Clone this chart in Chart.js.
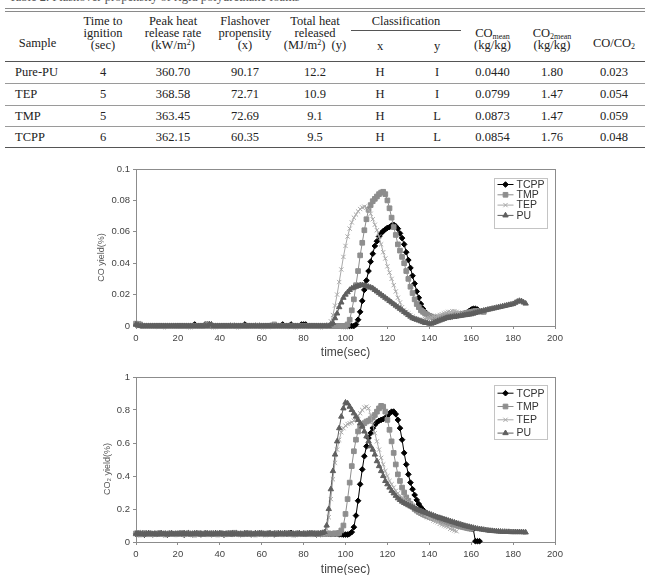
<!DOCTYPE html>
<html>
<head>
<meta charset="utf-8">
<script src="https://cdn.jsdelivr.net/npm/chart.js@4.4.0/dist/chart.umd.min.js"></script>
<style>
  html, body { margin: 0; padding: 0; background: #fff; }
  body { width: 654px; height: 575px; position: relative; overflow: hidden;
         font-family: "Liberation Serif", "Times New Roman", serif; color: #222; }
  #caption { position: absolute; left: 9px; top: -10px; font-size: 12.5px; line-height: 14px;
             color: #555; white-space: nowrap; }
  #rule { position: absolute; left: 5px; top: 8px; width: 640px; height: 2px;
          border-top: 1px solid #8a8a8a; border-bottom: 1px solid #8a8a8a; }
  #tbl { position: absolute; left: 5px; top: 12px; width: 640px; table-layout: fixed;
         border-collapse: separate; border-spacing: 0; font-size: 12.5px; }
  #tbl th { font-weight: normal; padding: 0; text-align: center; line-height: 12px; }
  #tbl th.tall { vertical-align: top; padding-top: 3px; }
  #tbl th.low { vertical-align: top; padding-top: 25px; }
  #tbl th.mid { vertical-align: top; padding-top: 15px; }
  #tbl th.cls { vertical-align: top; }
  #tbl th.cls div { box-sizing: border-box; height: 19px; padding-top: 3px; margin: 0 3px 0 1px;
                    border-bottom: 1px solid #555; }
  #tbl th.xy { vertical-align: middle; }
  #tbl sup { font-size: 8px; line-height: 0; vertical-align: 4px; }
  #tbl sub { font-size: 8px; line-height: 0; vertical-align: -2px; }
  #tbl td { padding: 0; text-align: center; vertical-align: middle; border-top: 1px solid #9a9a9a; line-height: 14px; }
  #tbl tbody tr:first-child td { border-top: 1px solid #555; }
  #tbl tbody tr:last-child td { border-bottom: 1px solid #555; }
  #tbl td.name { text-align: left; padding-left: 10px; }
  .box { position: absolute; left: 0; width: 654px; }
  #coBox { top: 160px; height: 200px; }
  #co2Box { top: 365px; height: 212px; }
</style>
</head>
<body>
<div id="caption">Table 2. Flashover propensity of rigid polyurethane foams</div>
<div id="rule"></div>
<table id="tbl">
  <colgroup>
    <col style="width:65px"><col style="width:66px"><col style="width:74px"><col style="width:70px">
    <col style="width:70px"><col style="width:60px"><col style="width:54px"><col style="width:57px">
    <col style="width:62px"><col style="width:62px">
  </colgroup>
  <thead>
    <tr style="height:19px">
      <th rowspan="2" class="low">Sample</th>
      <th rowspan="2" class="tall">Time to<br>ignition<br>(sec)</th>
      <th rowspan="2" class="tall">Peak heat<br>release rate<br>(kW/m<sup>2</sup>)</th>
      <th rowspan="2" class="tall">Flashover<br>propensity<br>(x)</th>
      <th rowspan="2" class="tall">Total heat<br>released<br>(MJ/m<sup>2</sup>)&nbsp;&nbsp;(y)</th>
      <th colspan="2" class="cls"><div>Classification</div></th>
      <th rowspan="2" class="mid">CO<sub>mean</sub><br>(kg/kg)</th>
      <th rowspan="2" class="mid">CO<sub>2mean</sub><br>(kg/kg)</th>
      <th rowspan="2" class="low">CO/CO<sub>2</sub></th>
    </tr>
    <tr style="height:30px">
      <th class="xy">x</th>
      <th class="xy">y</th>
    </tr>
  </thead>
  <tbody id="rows"></tbody>
</table>
<div id="coBox" class="box"><canvas id="coChart"></canvas></div>
<div id="co2Box" class="box"><canvas id="co2Chart"></canvas></div>
<script>
// table values
const sampleNames = ['Pure-PU', 'TEP', 'TMP', 'TCPP'];
const ignitionTime = ['4', '5', '5', '6'];
const peakHeatRelease = ['360.70', '368.58', '363.45', '362.15'];
const flashoverPropensity = ['90.17', '72.71', '72.69', '60.35'];
const totalHeatReleased = ['12.2', '10.9', '9.1', '9.5'];
const classX = ['H', 'H', 'H', 'H'];
const classY = ['I', 'I', 'L', 'L'];
const coMean = ['0.0440', '0.0799', '0.0873', '0.0854'];
const co2Mean = ['1.80', '1.47', '1.47', '1.76'];
const coCo2Ratio = ['0.023', '0.054', '0.059', '0.048'];

// chart series, one value per second starting at 0 s
const seriesNames = ['TCPP', 'TMP', 'TEP', 'PU'];

const coTCPP = [
  0.001, 0.001, 0.001, 0, 0, 0, 0, 0, 0, 0,
  0, 0, 0, 0, 0, 0, 0, 0, 0, 0,
  0, 0, 0, 0, 0, 0, 0, 0, 0.001, 0,
  0, 0, 0, 0.001, 0.001, 0.001, 0, 0, 0, 0,
  0, 0, 0, 0, 0, 0, 0, 0, 0, 0,
  0, 0, 0.001, 0, 0, 0, 0, 0, 0, 0,
  0, 0, 0, 0, 0, 0, 0, 0, 0, 0,
  0.001, 0, 0, 0, 0.001, 0, 0, 0, 0, 0.001,
  0.001, 0.001, 0, 0, 0, 0, 0, 0, 0, 0,
  0, 0, 0, 0, 0, 0, 0, 0, 0, 0,
  0, 0, 0, 0, 0, 0.001, 0.004, 0.009, 0.016, 0.023,
  0.029, 0.035, 0.041, 0.046, 0.051, 0.054, 0.057, 0.059, 0.0605, 0.0615,
  0.0625, 0.063, 0.064, 0.0645, 0.0635, 0.062, 0.059, 0.056, 0.052, 0.047,
  0.042, 0.037, 0.032, 0.027, 0.022, 0.018, 0.014, 0.011, 0.009, 0.0075,
  0.0065, 0.006, 0.0055, 0.005, 0.005, 0.005, 0.0052, 0.0054, 0.0056, 0.0058,
  0.006, 0.0062, 0.0064, 0.0066, 0.0068, 0.007, 0.0075, 0.008, 0.0085, 0.0095,
  0.0105, 0.011, 0.011, 0.0105
];
const coTMP = [
  0.0015, 0.001, 0.001, 0, 0, 0, 0, 0, 0, 0,
  0, 0, 0, 0, 0, 0, 0, 0, 0, 0,
  0, 0, 0, 0, 0, 0, 0, 0, 0, 0,
  0, 0, 0, 0, 0.001, 0, 0, 0, 0, 0,
  0, 0, 0, 0, 0, 0, 0, 0, 0, 0,
  0, 0, 0, 0, 0, 0, 0, 0, 0, 0,
  0, 0, 0, 0, 0, 0, 0.001, 0, 0, 0,
  0, 0, 0, 0, 0, 0, 0, 0, 0, 0,
  0, 0, 0, 0, 0, 0, 0, 0, 0, 0,
  0, 0, 0, 0, 0, 0, 0, 0, 0, 0,
  0, 0.001, 0.004, 0.010, 0.017, 0.026, 0.035, 0.045, 0.053, 0.061,
  0.068, 0.074, 0.077, 0.0795, 0.081, 0.0825, 0.084, 0.085, 0.0855, 0.084,
  0.080, 0.075, 0.069, 0.063, 0.058, 0.052, 0.048, 0.044, 0.040, 0.035,
  0.030, 0.025, 0.021, 0.017, 0.014, 0.012, 0.010, 0.009, 0.008, 0.0072,
  0.0065, 0.006, 0.0055, 0.005, 0.005, 0.0055, 0.0057, 0.006, 0.0062, 0.0064,
  0.0065, 0.0067, 0.0069, 0.0071, 0.0073, 0.0075, 0.0078, 0.0081, 0.0084, 0.0087,
  0.009, 0.0093, 0.0095, 0.0095, 0.0093, 0.0092, 0.009
];
const coTEP = [
  0.001, 0.0005, 0, 0, 0, 0, 0, 0, 0, 0,
  0, 0, 0, 0, 0, 0, 0, 0, 0, 0,
  0, 0, 0, 0, 0, 0, 0, 0, 0, 0,
  0, 0, 0, 0, 0, 0, 0, 0, 0, 0,
  0, 0, 0, 0, 0, 0, 0.001, 0, 0, 0,
  0, 0, 0, 0, 0, 0, 0, 0, 0.001, 0,
  0, 0, 0, 0, 0, 0.001, 0, 0, 0, 0,
  0, 0, 0, 0, 0, 0, 0, 0, 0, 0,
  0, 0, 0, 0, 0, 0, 0, 0, 0, 0,
  0, 0, 0.001, 0.003, 0.007, 0.013, 0.020, 0.028, 0.036, 0.044,
  0.051, 0.057, 0.062, 0.066, 0.069, 0.071, 0.073, 0.0745, 0.0755, 0.076,
  0.0755, 0.074, 0.0715, 0.068, 0.0645, 0.061, 0.057, 0.052, 0.047, 0.043,
  0.038, 0.034, 0.030, 0.026, 0.022, 0.018, 0.015, 0.012, 0.010, 0.009,
  0.008, 0.007, 0.006, 0.005, 0.0045, 0.004, 0.004, 0.004, 0.0045, 0.005,
  0.005, 0.0055, 0.006, 0.006, 0.0065, 0.007, 0.0075, 0.008, 0.0085, 0.009,
  0.009, 0.0095, 0.0095, 0.009, 0.0085, 0.008
];
const coPU = [
  0.001, 0.0005, 0, 0, 0, 0, 0, 0, 0, 0,
  0, 0, 0, 0, 0, 0, 0, 0, 0, 0,
  0, 0, 0, 0, 0, 0, 0, 0, 0, 0,
  0, 0, 0, 0, 0, 0.001, 0.001, 0, 0, 0,
  0, 0, 0, 0, 0, 0, 0, 0, 0, 0,
  0, 0, 0, 0, 0, 0, 0, 0, 0, 0,
  0, 0, 0, 0, 0, 0, 0, 0, 0, 0,
  0, 0, 0, 0, 0, 0, 0, 0, 0, 0,
  0, 0, 0, 0, 0, 0, 0, 0, 0, 0,
  0, 0, 0, 0.001, 0.002, 0.005, 0.008, 0.012, 0.015, 0.018,
  0.020, 0.0215, 0.023, 0.024, 0.0245, 0.025, 0.0255, 0.026, 0.026, 0.026,
  0.0255, 0.025, 0.0245, 0.024, 0.023, 0.022, 0.021, 0.020, 0.019, 0.018,
  0.017, 0.016, 0.015, 0.014, 0.013, 0.012, 0.011, 0.010, 0.009, 0.008,
  0.007, 0.006, 0.005, 0.0045, 0.004, 0.0035, 0.003, 0.0025, 0.002, 0.002,
  0.0015, 0.0015, 0.002, 0.0025, 0.003, 0.0035, 0.004, 0.0045, 0.005, 0.0053,
  0.0055, 0.0057, 0.0059, 0.0061, 0.0063, 0.0065, 0.0067, 0.0069, 0.0071, 0.0073,
  0.0075, 0.0079, 0.0083, 0.0087, 0.0091, 0.0095, 0.0098, 0.0101, 0.0104, 0.0107,
  0.011, 0.0113, 0.0116, 0.0119, 0.0122, 0.0125, 0.0128, 0.0131, 0.0134, 0.0137,
  0.014, 0.0148, 0.0155, 0.016, 0.0158, 0.015, 0.0143
];

const co2TCPP = [
  0.05, 0.047, 0.052, 0.05, 0.045, 0.048, 0.053, 0.05, 0.046, 0.05,
  0.048, 0.05, 0.052, 0.047, 0.05, 0.045, 0.049, 0.052, 0.05, 0.047,
  0.05, 0.052, 0.048, 0.045, 0.05, 0.053, 0.049, 0.047, 0.05, 0.052,
  0.049, 0.046, 0.05, 0.052, 0.048, 0.05, 0.047, 0.051, 0.053, 0.049,
  0.05, 0.048, 0.045, 0.05, 0.052, 0.049, 0.047, 0.05, 0.053, 0.05,
  0.047, 0.05, 0.052, 0.048, 0.05, 0.046, 0.05, 0.053, 0.049, 0.05,
  0.052, 0.048, 0.05, 0.047, 0.051, 0.05, 0.046, 0.05, 0.052, 0.049,
  0.05, 0.053, 0.048, 0.05, 0.055, 0.05, 0.047, 0.05, 0.052, 0.048,
  0.05, 0.047, 0.05, 0.052, 0.049, 0.05, 0.046, 0.05, 0.048, 0.05,
  0.052, 0.049, 0.05, 0.047, 0.05, 0.048, 0.05, 0.046, 0.047, 0.045,
  0.045, 0.045, 0.05, 0.06, 0.09, 0.16, 0.25, 0.35, 0.44, 0.52,
  0.58, 0.63, 0.66, 0.69, 0.71, 0.725, 0.735, 0.74, 0.745, 0.75,
  0.765, 0.78, 0.79, 0.79, 0.775, 0.74, 0.69, 0.62, 0.54, 0.47,
  0.41, 0.36, 0.32, 0.285, 0.255, 0.23, 0.21, 0.195, 0.18, 0.17,
  0.162, 0.157, 0.153, 0.15, 0.147, 0.143, 0.14, 0.135, 0.13, 0.125,
  0.12, 0.115, 0.11, 0.105, 0.1, 0.097, 0.094, 0.091, 0.088, 0.085,
  0.082, 0.078, 0.005, 0.005, 0.005
];
const co2TMP = [
  0.052, 0.05, 0.046, 0.049, 0.054, 0.05, 0.047, 0.051, 0.048, 0.05,
  0.05, 0.053, 0.048, 0.05, 0.046, 0.05, 0.052, 0.049, 0.05, 0.047,
  0.049, 0.05, 0.053, 0.047, 0.05, 0.052, 0.048, 0.05, 0.045, 0.05,
  0.053, 0.05, 0.048, 0.051, 0.047, 0.05, 0.052, 0.049, 0.05, 0.046,
  0.05, 0.052, 0.049, 0.047, 0.05, 0.053, 0.05, 0.056, 0.05, 0.048,
  0.05, 0.047, 0.051, 0.05, 0.053, 0.049, 0.05, 0.046, 0.05, 0.052,
  0.049, 0.05, 0.047, 0.052, 0.05, 0.048, 0.05, 0.053, 0.049, 0.05,
  0.047, 0.05, 0.052, 0.049, 0.05, 0.046, 0.05, 0.052, 0.048, 0.05,
  0.05, 0.052, 0.048, 0.05, 0.047, 0.05, 0.053, 0.049, 0.05, 0.052,
  0.048, 0.05, 0.052, 0.05, 0.049, 0.053, 0.05, 0.055, 0.07, 0.10,
  0.17, 0.26, 0.36, 0.46, 0.55, 0.62, 0.67, 0.70, 0.71, 0.72,
  0.73, 0.735, 0.745, 0.755, 0.77, 0.79, 0.81, 0.825, 0.82, 0.79,
  0.74, 0.68, 0.61, 0.54, 0.47, 0.41, 0.37, 0.33, 0.30, 0.27,
  0.25, 0.23, 0.215, 0.2, 0.19, 0.182, 0.175, 0.168, 0.162, 0.157,
  0.152, 0.148, 0.144, 0.14, 0.136, 0.132, 0.128, 0.124, 0.12, 0.116,
  0.112, 0.108, 0.104, 0.1, 0.097, 0.094, 0.091, 0.088, 0.085, 0.082,
  0.08
];
const co2TEP = [
  0.048, 0.05, 0.052, 0.05, 0.047, 0.05, 0.053, 0.049, 0.05, 0.046,
  0.05, 0.052, 0.048, 0.05, 0.047, 0.051, 0.05, 0.053, 0.049, 0.05,
  0.046, 0.05, 0.052, 0.049, 0.05, 0.047, 0.05, 0.052, 0.048, 0.05,
  0.05, 0.047, 0.051, 0.05, 0.053, 0.049, 0.05, 0.046, 0.05, 0.052,
  0.049, 0.05, 0.052, 0.048, 0.05, 0.047, 0.05, 0.053, 0.05, 0.048,
  0.05, 0.053, 0.049, 0.05, 0.046, 0.05, 0.052, 0.048, 0.05, 0.047,
  0.05, 0.048, 0.052, 0.05, 0.047, 0.05, 0.049, 0.053, 0.05, 0.048,
  0.052, 0.05, 0.047, 0.05, 0.053, 0.049, 0.05, 0.046, 0.05, 0.052,
  0.049, 0.05, 0.052, 0.048, 0.05, 0.047, 0.051, 0.05, 0.053, 0.05,
  0.055, 0.08, 0.15, 0.26, 0.38, 0.48, 0.56, 0.62, 0.665, 0.69,
  0.705, 0.715, 0.72, 0.725, 0.735, 0.75, 0.765, 0.78, 0.80, 0.815,
  0.82, 0.81, 0.77, 0.71, 0.66, 0.61, 0.56, 0.51, 0.47, 0.43,
  0.40, 0.37, 0.35, 0.33, 0.31, 0.295, 0.28, 0.27, 0.26, 0.25,
  0.24, 0.23, 0.22, 0.21, 0.2, 0.19, 0.18, 0.17, 0.16, 0.15,
  0.145, 0.14, 0.13, 0.125, 0.12, 0.11, 0.105, 0.1, 0.095, 0.09,
  0.08, 0.075, 0.07, 0.065
];
const co2PU = [
  0.05, 0.052, 0.048, 0.05, 0.047, 0.05, 0.053, 0.05, 0.048, 0.05,
  0.047, 0.05, 0.052, 0.049, 0.05, 0.046, 0.05, 0.052, 0.048, 0.05,
  0.05, 0.048, 0.05, 0.053, 0.049, 0.05, 0.047, 0.05, 0.052, 0.05,
  0.048, 0.05, 0.046, 0.05, 0.052, 0.049, 0.05, 0.047, 0.051, 0.05,
  0.053, 0.05, 0.048, 0.05, 0.047, 0.05, 0.052, 0.049, 0.05, 0.048,
  0.05, 0.046, 0.05, 0.052, 0.048, 0.05, 0.047, 0.051, 0.05, 0.053,
  0.049, 0.05, 0.047, 0.05, 0.052, 0.048, 0.05, 0.046, 0.05, 0.052,
  0.05, 0.048, 0.05, 0.053, 0.049, 0.05, 0.047, 0.05, 0.052, 0.048,
  0.05, 0.047, 0.051, 0.05, 0.053, 0.05, 0.048, 0.05, 0.052, 0.055,
  0.06, 0.10, 0.20, 0.32, 0.43, 0.53, 0.61, 0.69, 0.76, 0.81,
  0.845, 0.84, 0.82, 0.80, 0.78, 0.76, 0.74, 0.72, 0.70, 0.67,
  0.64, 0.61, 0.58, 0.56, 0.53, 0.49, 0.46, 0.43, 0.40, 0.37,
  0.35, 0.33, 0.31, 0.295, 0.28, 0.265, 0.255, 0.245, 0.237, 0.23,
  0.223, 0.216, 0.21, 0.204, 0.198, 0.193, 0.188, 0.183, 0.178, 0.174,
  0.17, 0.165, 0.16, 0.155, 0.15, 0.146, 0.142, 0.138, 0.134, 0.13,
  0.126, 0.122, 0.118, 0.114, 0.11, 0.106, 0.102, 0.098, 0.095, 0.092,
  0.089, 0.086, 0.083, 0.08, 0.078, 0.076, 0.074, 0.072, 0.07, 0.068,
  0.067, 0.066, 0.065, 0.064, 0.063, 0.062, 0.062, 0.061, 0.061, 0.06,
  0.06, 0.06, 0.06, 0.06, 0.06, 0.059, 0.058
];

// series look
const seriesColors = ['#000000', '#8e8e8e', '#a9a9a9', '#5f5f5f'];
const seriesMarkers = ['rectRot', 'rect', 'crossRot', 'triangle'];
const seriesRadius = [2.8, 3.3, 3, 3.1];

// fill the table body
const tbody = document.getElementById('rows');
sampleNames.forEach((name, i) => {
  const tr = document.createElement('tr');
  tr.style.height = '21.75px';
  const cells = [name, ignitionTime[i], peakHeatRelease[i], flashoverPropensity[i], totalHeatReleased[i],
    classX[i], classY[i], coMean[i], co2Mean[i], coCo2Ratio[i]];
  cells.forEach((text, c) => {
    const td = document.createElement('td');
    td.textContent = text;
    if (c === 0) td.className = 'name';
    tr.appendChild(td);
  });
  tbody.appendChild(tr);
});

// plot frame, legend box inside the plot and the rotated y title
const insideLegend = {
  id: 'insideLegend',
  beforeDatasetsDraw(chart) {
    const { ctx, chartArea: a } = chart;
    ctx.save();
    ctx.strokeStyle = '#8c8c8c';
    ctx.lineWidth = 1;
    ctx.strokeRect(Math.round(a.left) + 0.5, Math.round(a.top) + 0.5,
      Math.round(a.right) - Math.round(a.left), Math.round(a.bottom) - Math.round(a.top));
    ctx.restore();
  },
  afterDraw(chart, args, opts) {
    const { ctx, chartArea: a } = chart;
    ctx.save();
    const bx = Math.round(a.right - opts.right) + 0.5;
    const by = Math.round(a.top + opts.top) + 0.5;
    ctx.fillStyle = '#fff';
    ctx.fillRect(bx, by, opts.width, opts.height);
    ctx.strokeStyle = '#c4c4c4';
    ctx.lineWidth = 1;
    ctx.strokeRect(bx, by, opts.width, opts.height);
    ctx.font = '10.5px "Liberation Sans", Arial, sans-serif';
    ctx.textBaseline = 'middle';
    ctx.textAlign = 'left';
    chart.data.datasets.forEach((ds, i) => {
      const y = by + opts.first + i * opts.gap;
      ctx.strokeStyle = ds.borderColor;
      ctx.fillStyle = ds.pointBackgroundColor;
      ctx.lineWidth = 1;
      ctx.beginPath();
      ctx.moveTo(bx + 3, y);
      ctx.lineTo(bx + 19, y);
      ctx.stroke();
      Chart.helpers.drawPoint(ctx, { pointStyle: ds.pointStyle, radius: ds.pointRadius, borderWidth: 1, rotation: 0 }, bx + 11, y);
      ctx.fillStyle = '#333';
      ctx.fillText(ds.label, bx + 22, y + 0.5);
    });
    ctx.translate(a.left + opts.titleDx, (a.top + a.bottom) / 2 + opts.titleDy);
    ctx.rotate(-Math.PI / 2);
    ctx.textAlign = 'center';
    ctx.font = '9px "Liberation Sans", Arial, sans-serif';
    ctx.fillStyle = '#555';
    ctx.fillText(opts.title, 0, 0);
    ctx.restore();
  }
};

const tickFont = { family: '"Liberation Sans", Arial, sans-serif', size: 9.5 };

function buildChart(canvasId, series, yMax, yStep, legend, padTop, xAxisHeight) {
  const datasets = series.map((values, i) => ({
    label: seriesNames[i],
    data: values.map((v, t) => ({ x: t, y: v })),
    borderColor: seriesColors[i],
    backgroundColor: seriesColors[i],
    pointBackgroundColor: seriesColors[i],
    pointBorderColor: seriesColors[i],
    pointStyle: seriesMarkers[i],
    pointRadius: seriesRadius[i],
    pointBorderWidth: 1,
    borderWidth: 1,
    tension: 0,
    clip: false,
    order: seriesNames.length - i
  }));
  return new Chart(document.getElementById(canvasId), {
    type: 'line',
    data: { datasets },
    options: {
      responsive: true,
      maintainAspectRatio: false,
      animation: false,
      events: [],
      layout: { padding: { left: 0, right: 99, top: padTop, bottom: 0 } },
      plugins: { legend: { display: false }, tooltip: { enabled: false }, insideLegend: legend },
      scales: {
        x: {
          type: 'linear', min: 0, max: 200,
          ticks: { stepSize: 20, color: '#444', font: tickFont, padding: 4, maxRotation: 0 },
          grid: { display: true, drawOnChartArea: false, drawTicks: true, tickLength: 3, color: '#8c8c8c' },
          border: { color: '#8c8c8c' },
          title: { display: true, text: 'time(sec)', color: '#444', padding: 0,
                   font: { family: '"Liberation Sans", Arial, sans-serif', size: 12 } },
          afterFit: s => { s.height = xAxisHeight; }
        },
        y: {
          min: 0, max: yMax,
          ticks: { stepSize: yStep, color: '#444', font: tickFont, padding: 3,
                   callback: v => String(+v.toFixed(3)) },
          grid: { display: true, drawOnChartArea: false, drawTicks: true, tickLength: 3, color: '#8c8c8c' },
          border: { color: '#8c8c8c' },
          afterFit: s => { s.width = 136; }
        }
      }
    },
    plugins: [insideLegend]
  });
}

buildChart('coChart', [coTCPP, coTMP, coTEP, coPU], 0.1, 0.02,
  { right: 61, top: 9, width: 53, height: 50, first: 6, gap: 10.3, title: 'CO yield(%)', titleDx: -34.5, titleDy: 10 },
  9, 34);
buildChart('co2Chart', [co2TCPP, co2TMP, co2TEP, co2PU], 1, 0.2,
  { right: 61, top: 8, width: 53, height: 54, first: 7.7, gap: 13.3, title: 'CO\u2082 yield(%)', titleDx: -28, titleDy: 9.5 },
  12, 35);
</script>
</body>
</html>
